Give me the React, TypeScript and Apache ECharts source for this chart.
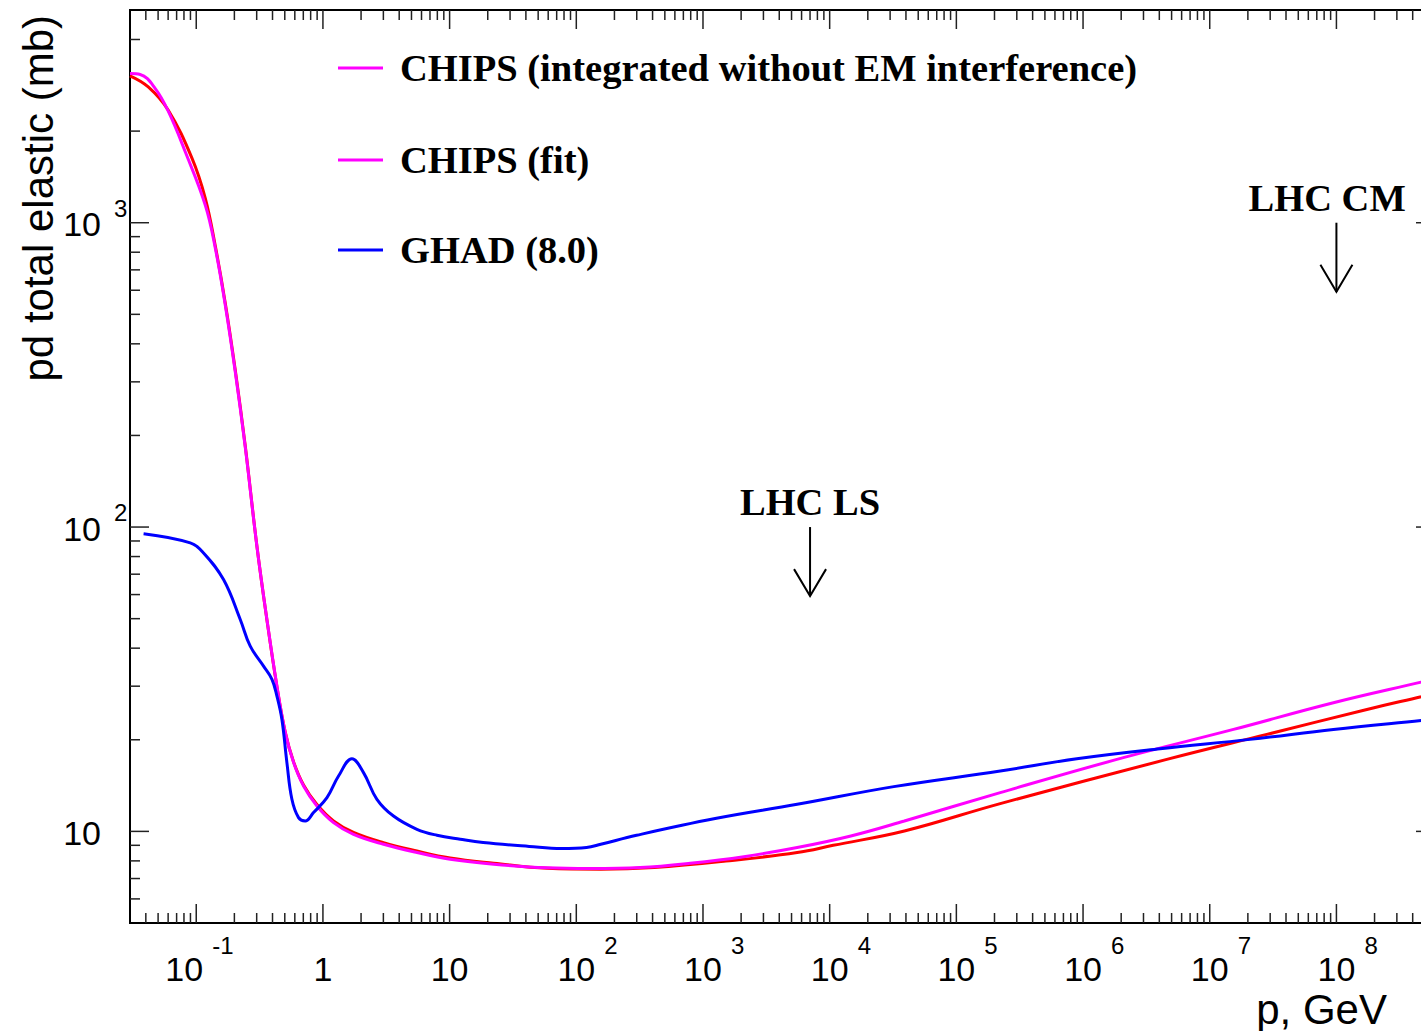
import React, { useEffect, useRef } from 'react';
import * as echarts from 'echarts';

// ---------- axis ranges ----------
const X_MIN = 0.03;
const X_MAX = 6e8;
const Y_MIN = 5;
const Y_MAX = 5000;

// ---------- series data (p in GeV, sigma in mb) ----------
const chipsIntP = [0.03, 0.0418, 0.06, 0.0925, 0.1178, 0.1413, 0.1694, 0.2032, 0.2436, 0.3013, 0.3612, 0.4335, 0.504, 0.586, 0.703, 0.897, 1.212, 1.744, 3.01, 5.52, 10.1, 22.3, 58.9, 156, 412, 1517, 5540, 10660, 38900, 2.22e5, 4.58e6, 2.82e7, 1.74e8, 4.66e8, 6e8];
const chipsIntSigma = [3040, 2795, 2345, 1631, 1205, 840, 545, 328, 185, 86.5, 49.6, 29.9, 21.2, 16.95, 14.2, 12.25, 10.82, 9.92, 9.18, 8.62, 8.18, 7.86, 7.56, 7.51, 7.61, 7.99, 8.52, 9.0, 10.03, 12.34, 17.24, 20.83, 25.16, 27.7, 28.4];

const chipsFitP = [0.03, 0.0361, 0.0475, 0.0605, 0.0819, 0.1178, 0.1413, 0.1694, 0.2032, 0.2436, 0.3013, 0.3612, 0.4335, 0.504, 0.586, 0.703, 0.897, 1.212, 1.744, 3.01, 5.52, 10.1, 22.3, 58.9, 128.8, 319, 792, 2100, 5540, 14700, 38900, 2.22e5, 2.08e6, 1.54e7, 9.47e7, 4.66e8, 6e8];
const chipsFitSigma = [3090, 3070, 2760, 2313, 1710, 1143, 826, 537, 324, 183.5, 86.4, 49.7, 30.0, 21.15, 16.86, 14.1, 12.12, 10.69, 9.78, 9.07, 8.52, 8.10, 7.80, 7.59, 7.55, 7.61, 7.86, 8.26, 8.85, 9.66, 10.82, 13.41, 17.47, 21.63, 26.47, 30.93, 31.7];

const ghadP = [0.0384, 0.0897, 0.1142, 0.1642, 0.2225, 0.2668, 0.3398, 0.396, 0.4335, 0.4746, 0.5198, 0.569, 0.6419, 0.7248, 0.843, 1.076, 1.328, 1.694, 2.091, 2.668, 3.607, 5.52, 7.94, 12.13, 18.4, 42.5, 76.5, 120.5, 156, 299, 1248, 5540, 32060, 2.22e5, 8.93e5, 4.06e6, 2.08e7, 9.47e7, 4.66e8, 6e8];
const ghadSigma = [95.1, 88.7, 82.2, 67.2, 49.7, 40.6, 34.9, 31.6, 27.8, 23.3, 16.8, 12.75, 11.1, 10.82, 11.53, 12.91, 15.2, 17.33, 15.6, 12.75, 11.23, 10.16, 9.71, 9.42, 9.19, 8.92, 8.78, 8.85, 9.07, 9.71, 11.02, 12.27, 14.03, 15.79, 17.33, 18.7, 20.06, 21.63, 23.15, 23.4];

// ---------- tick labels ----------
const xLabelValues = [0.1, 1, 10, 100, 1e3, 1e4, 1e5, 1e6, 1e7, 1e8];
const xLabelBase = ['10', '1', '10', '10', '10', '10', '10', '10', '10', '10'];
const xLabelExp = ['-1', '', '', '2', '3', '4', '5', '6', '7', '8'];
const yLabelValues = [10, 100, 1000];
const yLabelBase = ['10', '10', '10'];
const yLabelExp = ['', '2', '3'];

// ---------- ticks ----------
const xDecades = [0.01, 0.1, 1, 10, 100, 1e3, 1e4, 1e5, 1e6, 1e7, 1e8];
const minorMultipliers = [2, 3, 4, 5, 6, 7, 8, 9];
const yMajorTicks = [10, 100, 1000];
const yMinorTicks = [6, 7, 8, 9, 20, 30, 40, 50, 60, 70, 80, 90, 200, 300, 400, 500, 600, 700, 800, 900, 2000, 4000];

// ---------- legend & annotations ----------
const legendLabels = ['CHIPS (integrated without EM interference)', 'CHIPS (fit)', 'GHAD (8.0)'];
const legendColors = ['#ff00ff', '#ff00ff', '#0000ff'];
const legendY = [68, 160, 250];

const annoArrowP = [7000, 1e8];
const annoTextP = [7000, 8.45e7];
const annoText = ['LHC LS', 'LHC CM'];
const annoTextSigma = [120.7, 1210];
const annoTopSigma = [100, 1000];
const annoTipSigma = [59.3, 593];

const zip = (a: number[], b: number[]) => a.map((v, i) => [v, b[i]]);

const xTicks: { v: number; major: boolean }[] = [];
xDecades.forEach((d) => {
  const cands = [{ v: d, major: true }, ...minorMultipliers.map((m) => ({ v: d * m, major: false }))];
  cands.forEach((c) => {
    if (c.v > X_MIN * 1.001 && c.v < X_MAX * 0.999) xTicks.push(c);
  });
});
const yTicks: { v: number; major: boolean }[] = [
  ...yMajorTicks.map((v) => ({ v, major: true })),
  ...yMinorTicks.map((v) => ({ v, major: false })),
];

const SANS = '"Liberation Sans", Arial, Helvetica, sans-serif';
const SERIF = '"Liberation Serif", "Times New Roman", serif';
const TICK_COLOR = '#222';
const CHART_W = 1440;
const CHART_H = 1031;

function txt(x: number, y: number, text: string, size: number, family: string, weight: string, align: string, valign: string, extra: any = {}) {
  return {
    type: 'text',
    x,
    y,
    ...extra,
    style: {
      text,
      fontSize: size,
      fontFamily: family,
      fontWeight: weight,
      lineHeight: Math.round(size * 0.9),
      fill: '#000',
      align,
      verticalAlign: valign,
      textAlign: align,
      textVerticalAlign: valign,
    },
  };
}

function lineSeries(name: string, p: number[], s: number[], color: string, z: number) {
  return {
    name,
    type: 'line',
    data: zip(p, s),
    symbol: 'none',
    showSymbol: false,
    smooth: 0.4,
    lineStyle: { color, width: 3 },
    silent: true,
    z,
  };
}

export default function App() {
  const ref = useRef<HTMLDivElement>(null);

  useEffect(() => {
    const chart = echarts.init(ref.current!, null, { renderer: 'svg' });

    const option: any = {
      animation: false,
      grid: {
        left: 130,
        top: 10,
        right: CHART_W - 1435,
        bottom: CHART_H - 923,
        show: true,
        borderColor: '#000',
        borderWidth: 2,
        backgroundColor: 'transparent',
      },
      xAxis: {
        type: 'log',
        logBase: 10,
        min: X_MIN,
        max: X_MAX,
        axisLine: { show: false },
        axisTick: { show: false },
        axisLabel: { show: false },
        splitLine: { show: false },
      },
      yAxis: {
        type: 'log',
        logBase: 10,
        min: Y_MIN,
        max: Y_MAX,
        axisLine: { show: false },
        axisTick: { show: false },
        axisLabel: { show: false },
        splitLine: { show: false },
      },
      series: [
        lineSeries('CHIPS (integrated without EM interference)', chipsIntP, chipsIntSigma, '#ff0000', 3),
        lineSeries('CHIPS (fit)', chipsFitP, chipsFitSigma, '#ff00ff', 4),
        lineSeries('GHAD (8.0)', ghadP, ghadSigma, '#0000ff', 5),
        // x ticks (bottom and top)
        {
          type: 'custom',
          coordinateSystem: 'cartesian2d',
          silent: true,
          clip: false,
          z: 6,
          data: xTicks.map((t) => [t.v, Y_MIN]),
          renderItem: (params: any, api: any) => {
            const t = xTicks[params.dataIndex];
            const len = t.major ? 19 : 10;
            const b = api.coord([t.v, Y_MIN]);
            const tp = api.coord([t.v, Y_MAX]);
            const st = { stroke: TICK_COLOR, lineWidth: 1.5 };
            return {
              type: 'group',
              children: [
                { type: 'line', shape: { x1: b[0], y1: b[1], x2: b[0], y2: b[1] - len }, style: st },
                { type: 'line', shape: { x1: tp[0], y1: tp[1], x2: tp[0], y2: tp[1] + len }, style: st },
              ],
            };
          },
        },
        // y ticks (left and right)
        {
          type: 'custom',
          coordinateSystem: 'cartesian2d',
          silent: true,
          clip: false,
          z: 6,
          data: yTicks.map((t) => [X_MIN, t.v]),
          renderItem: (params: any, api: any) => {
            const t = yTicks[params.dataIndex];
            const len = t.major ? 19 : 10;
            const l = api.coord([X_MIN, t.v]);
            const r = api.coord([X_MAX, t.v]);
            const st = { stroke: TICK_COLOR, lineWidth: 1.5 };
            return {
              type: 'group',
              children: [
                { type: 'line', shape: { x1: l[0], y1: l[1], x2: l[0] + len, y2: l[1] }, style: st },
                { type: 'line', shape: { x1: r[0], y1: r[1], x2: r[0] - len, y2: r[1] }, style: st },
              ],
            };
          },
        },
        // x tick labels
        {
          type: 'custom',
          coordinateSystem: 'cartesian2d',
          silent: true,
          clip: false,
          z: 6,
          data: xLabelValues.map((v) => [v, Y_MIN]),
          renderItem: (params: any, api: any) => {
            const i = params.dataIndex;
            const p = api.coord([xLabelValues[i], Y_MIN]);
            const exp = xLabelExp[i];
            const shift = exp.startsWith('-') ? -12 : 0;
            const cx = p[0] + shift;
            const children: any[] = [txt(cx, p[1] + 45.5, xLabelBase[i], 34, SANS, 'normal', 'center', 'middle')];
            if (exp) children.push(txt(cx + 28, p[1] + 22, exp, 24, SANS, 'normal', 'left', 'middle'));
            return { type: 'group', children };
          },
        },
        // y tick labels
        {
          type: 'custom',
          coordinateSystem: 'cartesian2d',
          silent: true,
          clip: false,
          z: 6,
          data: yLabelValues.map((v) => [X_MIN, v]),
          renderItem: (params: any, api: any) => {
            const i = params.dataIndex;
            const p = api.coord([X_MIN, yLabelValues[i]]);
            const exp = yLabelExp[i];
            const children: any[] = [txt(p[0] - 29, p[1] + 1.5, yLabelBase[i], 34, SANS, 'normal', 'right', 'middle')];
            if (exp) children.push(txt(p[0] - 16, p[1] - 14.5, exp, 24, SANS, 'normal', 'left', 'middle'));
            return { type: 'group', children };
          },
        },
        // annotations (LHC LS / LHC CM arrows)
        {
          type: 'custom',
          coordinateSystem: 'cartesian2d',
          silent: true,
          clip: false,
          z: 7,
          data: annoArrowP.map((v, i) => [v, annoTopSigma[i]]),
          renderItem: (params: any, api: any) => {
            const i = params.dataIndex;
            const tp = api.coord([annoArrowP[i], annoTopSigma[i]]);
            const tip = api.coord([annoArrowP[i], annoTipSigma[i]]);
            const tt = api.coord([annoTextP[i], annoTextSigma[i]]);
            const st = { stroke: '#000', lineWidth: 2, fill: 'none' };
            return {
              type: 'group',
              children: [
                txt(tt[0], tt[1], annoText[i], 38.5, SERIF, 'bold', 'center', 'middle'),
                { type: 'line', shape: { x1: tp[0], y1: tp[1], x2: tip[0], y2: tip[1] }, style: st },
                {
                  type: 'polyline',
                  shape: { points: [[tip[0] - 16, tip[1] - 27], [tip[0], tip[1]], [tip[0] + 16, tip[1] - 27]] },
                  style: st,
                },
              ],
            };
          },
        },
      ],
      graphic: [
        // legend
        ...legendLabels.flatMap((lab, i) => [
          {
            type: 'line',
            shape: { x1: 338, y1: legendY[i], x2: 383, y2: legendY[i] },
            style: { stroke: legendColors[i], lineWidth: 3 },
          },
          txt(400, legendY[i], lab, 38.5, SERIF, 'bold', 'left', 'middle'),
        ]),
        // axis titles
        txt(1387, 1009, 'p, GeV', 42, SANS, 'normal', 'right', 'middle'),
        txt(38, 15, 'pd total elastic (mb)', 42, SANS, 'normal', 'right', 'middle', { rotation: Math.PI / 2 }),
      ],
    };

    chart.setOption(option);
    return () => chart.dispose();
  }, []);

  return (
    <div
      ref={ref}
      style={{ position: 'fixed', left: 0, top: 0, width: CHART_W, height: CHART_H, background: '#fff' }}
    />
  );
}
